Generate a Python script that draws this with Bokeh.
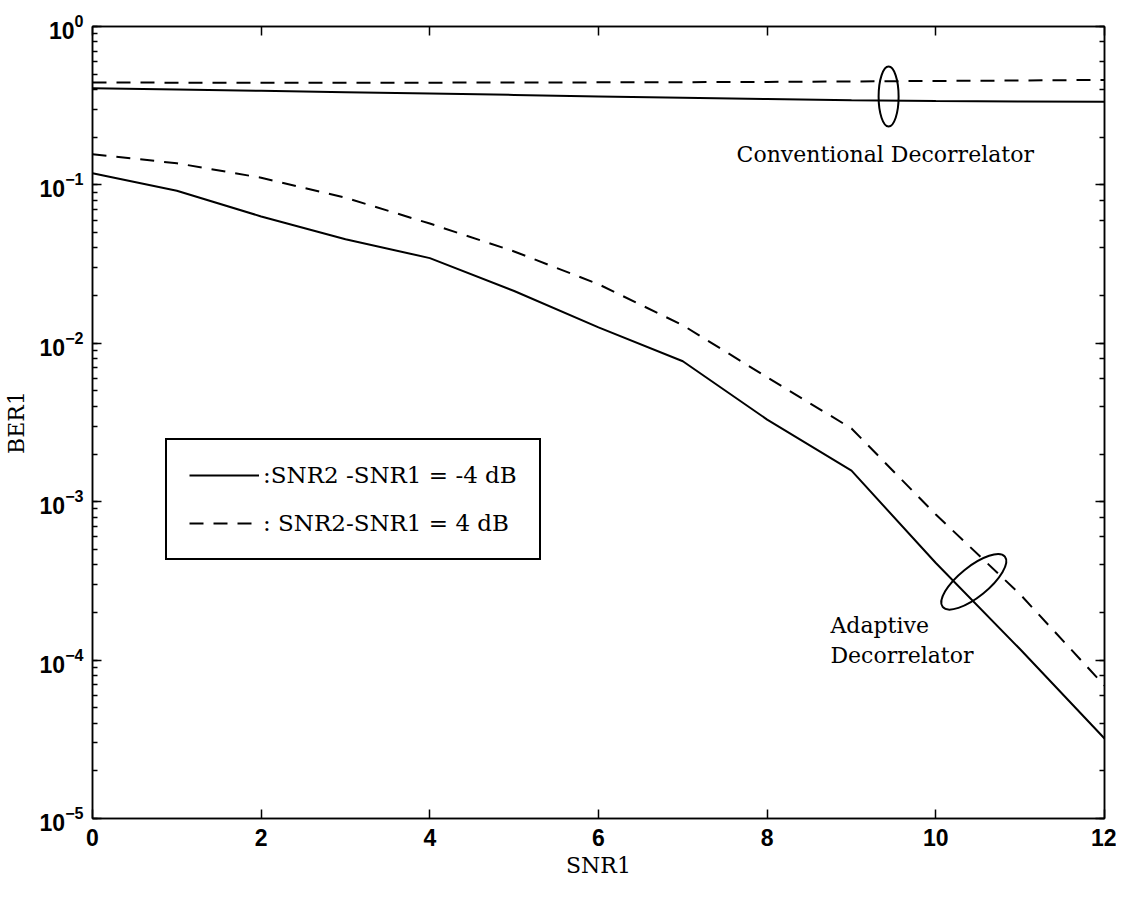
from bokeh.plotting import figure
from bokeh.models import (Legend, LegendItem, LinearAxis, LogAxis, Range1d, FixedTicker,
                          LogTicker, CustomJSTickFormatter)
from bokeh.core.properties import value
from bokeh.embed import file_html
from bokeh.resources import INLINE

# ---- data ----
snr1 = [0, 1, 2, 3, 4, 5, 6, 7, 8, 9, 10, 11, 12]
conv_m4 = [0.408, 0.400, 0.393, 0.385, 0.377, 0.370, 0.362, 0.355, 0.348, 0.342, 0.338, 0.336, 0.335]
conv_p4 = [0.443, 0.442, 0.441, 0.441, 0.442, 0.443, 0.444, 0.445, 0.447, 0.450, 0.453, 0.456, 0.460]
adapt_m4 = [0.1186, 0.0918, 0.0632, 0.0454, 0.0345, 0.0214, 0.0126, 0.0077, 0.0033, 0.00157, 4.1e-4, 1.17e-4, 3.2e-5]
adapt_p4 = [0.156, 0.137, 0.111, 0.083, 0.057, 0.038, 0.0236, 0.013, 0.0061, 0.0029, 8.3e-4, 2.6e-4, 6.9e-5]
x_ticks = [0, 2, 4, 6, 8, 10, 12]
legend_labels = [":SNR2 -SNR1 = -4 dB", ": SNR2-SNR1 = 4 dB"]
conv_label = "Conventional Decorrelator"
adapt_label = ["Adaptive", "Decorrelator"]

SERIF = "DejaVu Serif"
SANS = "Liberation Sans"

p = figure(width=1116, height=885, x_range=Range1d(0, 12), y_range=Range1d(1e-5, 1),
           y_axis_type="log", output_backend="svg", toolbar_location=None,
           min_border_left=92, min_border_top=26, min_border_right=12, min_border_bottom=67)
p.grid.visible = False
p.outline_line_color = "black"
p.outline_line_width = 1.5
p.background_fill_color = "white"
p.border_fill_color = "white"

xa = p.xaxis[0]
xa.ticker = FixedTicker(ticks=x_ticks)
xa.axis_label = "SNR1"
ya = p.yaxis[0]
ya.axis_label = "BER1"
for ax in (xa, ya):
    ax.axis_line_width = 1.5
    ax.major_tick_in = 9
    ax.major_tick_out = 0
    ax.minor_tick_in = 5
    ax.minor_tick_out = 0
    ax.major_tick_line_width = 1.5
    ax.minor_tick_line_width = 1.5
    ax.major_label_text_font = SANS
    ax.major_label_text_font_style = "bold"
    ax.major_label_text_font_size = "23px"
    ax.major_label_text_color = "black"
    ax.axis_label_text_font = SERIF
    ax.axis_label_text_font_style = "normal"
    ax.axis_label_text_font_size = "22px"
    ax.axis_label_text_color = "black"
xa.major_label_standoff = 10
xa.axis_label_standoff = 4
ya.major_label_standoff = 9
ya.axis_label_standoff = 8

top = LinearAxis(ticker=FixedTicker(ticks=x_ticks), formatter=CustomJSTickFormatter(code="return ''"),
                 major_label_text_font_size="8px",
                 major_tick_in=9, major_tick_out=0, axis_line_width=1.5,
                 major_tick_line_width=1.5, major_label_standoff=0)
p.add_layout(top, "above")
right = LogAxis(ticker=LogTicker(), formatter=CustomJSTickFormatter(code="return ''"),
                major_label_text_font_size="8px", major_tick_in=9, major_tick_out=0,
                minor_tick_in=5, minor_tick_out=0, axis_line_width=1.5,
                major_tick_line_width=1.5, minor_tick_line_width=1.5, major_label_standoff=0)
p.add_layout(right, "right")

DASH = "14 10"
r1 = p.line(snr1, adapt_m4, line_color="black", line_width=2)
r2 = p.line(snr1, adapt_p4, line_color="black", line_width=2, line_dash=DASH)
p.line(snr1, conv_m4, line_color="black", line_width=2)
p.line(snr1, conv_p4, line_color="black", line_width=2, line_dash=DASH)

# annotation ellipses
p.ellipse(x=[9.44], y=[0.361], width=20, height=60, width_units="screen", height_units="screen",
          fill_color=None, line_color="black", line_width=2)
p.ellipse(x=[10.45], y=[3.12e-4], width=80, height=30, angle=0.68,
          width_units="screen", height_units="screen",
          fill_color=None, line_color="black", line_width=2)

p.text(x=[9.4], y=[0.1556], text=[conv_label], text_font=value(SERIF), text_font_size="22px",
       text_align="center", text_baseline="middle", text_color="black")
p.text(x=[8.75, 8.75], y=[1.65e-4, 1.07e-4], text=adapt_label, text_font=value(SERIF),
       text_font_size="22px", text_align="left", text_baseline="middle", text_color="black")

legend = Legend(items=[LegendItem(label=legend_labels[0], renderers=[r1]),
                       LegendItem(label=legend_labels[1], renderers=[r2])],
                location=(73, 258), orientation="vertical",
                border_line_color="black", border_line_alpha=1.0, border_line_width=2,
                background_fill_alpha=1.0, background_fill_color="white",
                label_text_font=SERIF, label_text_font_size="23px", label_text_color="black",
                glyph_width=70, glyph_height=26, label_height=26, spacing=22,
                padding=22, margin=0, label_standoff=4)
p.add_layout(legend, "center")

open("out.html", "w").write(file_html(p, INLINE))
